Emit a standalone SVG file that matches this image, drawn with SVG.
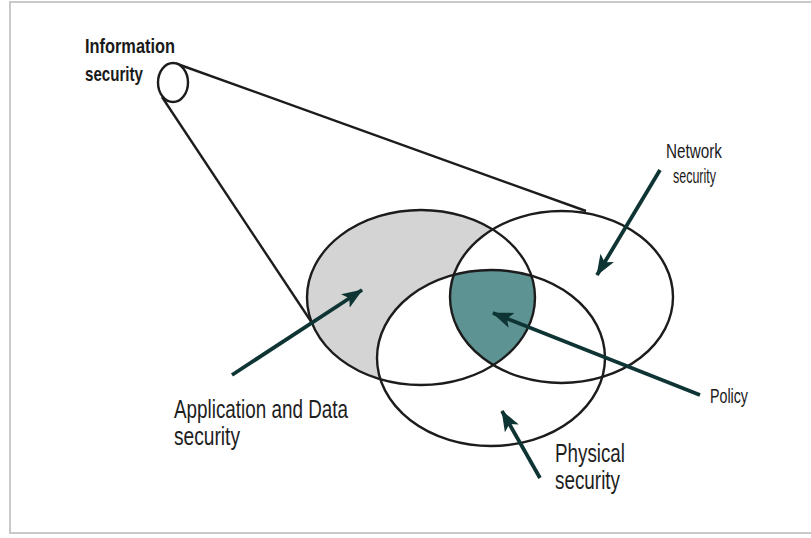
<svg xmlns="http://www.w3.org/2000/svg" width="811" height="538" viewBox="0 0 811 538">
  <style>
    .outline { fill: none; stroke: #1c1c1c; stroke-width: 2.4; }
    .arrow { fill: none; stroke: #0e3433; stroke-width: 3.8; marker-end: url(#head); }
    .cond { font-family: "Liberation Sans", Arial, sans-serif; fill: #1a1a1a; }
    .plain { font-family: "Liberation Sans", Arial, sans-serif; fill: #1e1e1e; font-size: 25px; }
  </style>
  <defs>
    <marker id="head" markerUnits="userSpaceOnUse" markerWidth="24" markerHeight="18" refX="20" refY="8" orient="auto">
      <path d="M0,0 L21,8 L0,16 L5,8 Z" fill="#0e3433"/>
    </marker>
    <clipPath id="clipNet"><ellipse cx="561.5" cy="297" rx="111.5" ry="86"/></clipPath>
    <clipPath id="clipPhys"><ellipse cx="491" cy="358" rx="114" ry="88"/></clipPath>
  </defs>

  <rect width="811" height="538" fill="#ffffff"/>
  <!-- outer frame -->
  <path d="M815,2 H10 V533 H815" fill="none" stroke="#c9c9c9" stroke-width="2"/>

  <!-- Information security: small circle zooming out to the venn -->
  <g id="info">
    <line x1="176" y1="63.5" x2="586" y2="211" class="outline"/>
    <line x1="162" y1="97" x2="318" y2="332" class="outline"/>
    <ellipse cx="173" cy="82.5" rx="15" ry="19.5" class="outline" style="fill:#ffffff"/>
    <text class="cond" font-weight="bold" font-size="21" x="85" y="53" textLength="90" lengthAdjust="spacingAndGlyphs">Information</text>
    <text class="cond" font-weight="bold" font-size="21" x="85" y="81" textLength="58" lengthAdjust="spacingAndGlyphs">security</text>
  </g>

  <!-- Venn fills: grey for application-only, teal where all three overlap -->
  <g id="fills">
    <ellipse cx="421" cy="297.5" rx="114" ry="87.5" fill="#d4d4d4"/>
    <ellipse cx="561.5" cy="297" rx="111.5" ry="86" fill="#ffffff"/>
    <ellipse cx="491" cy="358" rx="114" ry="88" fill="#ffffff"/>
    <g clip-path="url(#clipPhys)">
      <g clip-path="url(#clipNet)">
        <ellipse cx="421" cy="297.5" rx="114" ry="87.5" fill="#5e9394"/>
      </g>
    </g>
  </g>

  <g id="app-data">
    <ellipse cx="421" cy="297.5" rx="114" ry="87.5" class="outline"/>
    <text class="plain" x="174" y="418" font-size="24" textLength="174" lengthAdjust="spacingAndGlyphs">Application and Data</text>
    <text class="plain" x="174" y="445" font-size="24" textLength="66" lengthAdjust="spacingAndGlyphs">security</text>
  </g>

  <g id="network">
    <ellipse cx="561.5" cy="297" rx="111.5" ry="86" class="outline"/>
    <text class="cond" font-size="21" x="666" y="158" textLength="56" lengthAdjust="spacingAndGlyphs">Network</text>
    <text class="cond" font-size="21" x="673" y="183" textLength="43" lengthAdjust="spacingAndGlyphs">security</text>
  </g>

  <g id="physical">
    <ellipse cx="491" cy="358" rx="114" ry="88" class="outline"/>
    <text class="plain" x="555" y="462" textLength="70" lengthAdjust="spacingAndGlyphs">Physical</text>
    <text class="plain" x="555" y="489" textLength="65" lengthAdjust="spacingAndGlyphs">security</text>
  </g>

  <g id="policy">
    <text class="cond" font-size="21" x="710" y="403" textLength="38" lengthAdjust="spacingAndGlyphs">Policy</text>
  </g>

  <!-- pointer arrows -->
  <g id="connectors">
    <line class="arrow" x1="232" y1="375" x2="362" y2="290"/>
    <line class="arrow" x1="660" y1="170" x2="597" y2="275"/>
    <line class="arrow" x1="700" y1="395" x2="493" y2="313"/>
    <line class="arrow" x1="540" y1="478" x2="502" y2="411"/>
  </g>
</svg>
